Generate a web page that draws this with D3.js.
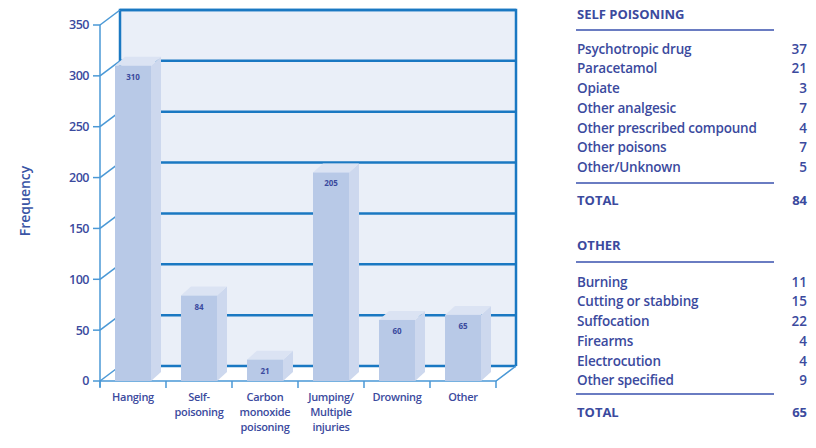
<!DOCTYPE html>
<html><head><meta charset="utf-8">
<script src="https://cdn.jsdelivr.net/npm/d3@7"></script>
<style>
body{margin:0;background:#fff;}
text{font-family:"Open Sans",sans-serif;}
</style></head>
<body><svg id="c" width="816" height="448"></svg>
<script>
const categories = [["Hanging"],["Self-","poisoning"],["Carbon","monoxide","poisoning"],["Jumping/","Multiple","injuries"],["Drowning"],["Other"]];
const values = [310,84,21,205,60,65];
const yTicks = [0,50,100,150,200,250,300,350];
const selfLabels = ["Psychotropic drug","Paracetamol","Opiate","Other analgesic","Other prescribed compound","Other poisons","Other/Unknown"];
const selfValues = [37,21,3,7,4,7,5];
const otherLabels = ["Burning","Cutting or stabbing","Suffocation","Firearms","Electrocution","Other specified"];
const otherValues = [11,15,22,4,4,9];

const svg = d3.select("#c");
const navy = "#3b4a9e";
const blue = "#1a78c2";
const lightBlue = "#4a98d6";
const DX = 20, DY = -15;   // wall depth
const bdx = 10, bdy = -9;  // bar depth

const y = d3.scaleLinear().domain([0,350]).range([381,25]);
const x = d3.scaleBand().domain(d3.range(categories.length)).range([100,496]).paddingInner(0.4545).paddingOuter(0.2273);
const x0 = 100, x1 = 496;

// back wall
svg.append("rect").attr("x",x0+DX).attr("y",y(350)+DY).attr("width",x1-x0).attr("height",y(0)-y(350))
  .attr("fill","#eaeff8");
svg.append("g").selectAll("line").data(yTicks).join("line")
  .attr("x1",x0+DX).attr("x2",x1+DX).attr("y1",d=>y(d)+DY).attr("y2",d=>y(d)+DY)
  .attr("stroke",blue).attr("stroke-width",2.5);
svg.append("path").attr("d",`M${x0+DX},${y(0)+DY}V${y(350)+DY}H${x1+DX}V${y(0)+DY}`)
  .attr("fill","none").attr("stroke",blue).attr("stroke-width",2.5);
svg.append("g").selectAll("line").data(yTicks).join("line")
  .attr("x1",x0).attr("y1",d=>y(d)).attr("x2",x0+DX).attr("y2",d=>y(d)+DY)
  .attr("stroke",lightBlue).attr("stroke-width",1.5);
svg.append("path").attr("d",`M${x0},${y(0)}H${x1}L${x1+DX},${y(0)+DY}`)
  .attr("fill","none").attr("stroke",lightBlue).attr("stroke-width",1.5);
svg.append("line").attr("x1",x0).attr("x2",x0).attr("y1",y(350)).attr("y2",y(0)+6)
  .attr("stroke",lightBlue).attr("stroke-width",1.5);
svg.append("g").selectAll("line").data(yTicks).join("line")
  .attr("x1",x0-7).attr("x2",x0).attr("y1",d=>y(d)).attr("y2",d=>y(d))
  .attr("stroke",lightBlue).attr("stroke-width",1.5);
svg.append("g").selectAll("text").data(yTicks).join("text")
  .attr("x",x0-11).attr("y",d=>y(d)).attr("dy","0.35em").attr("text-anchor","end")
  .attr("font-size",12.5).attr("font-weight",600).attr("fill",navy).attr("letter-spacing",-0.5).text(d=>d);
const step = x.step();
svg.append("g").selectAll("line").data(d3.range(categories.length+1)).join("line")
  .attr("x1",d=>x0+d*step).attr("x2",d=>x0+d*step).attr("y1",y(0)).attr("y2",y(0)+7)
  .attr("stroke",lightBlue).attr("stroke-width",1.5);

// bars
const bars = svg.append("g").selectAll("g").data(values).join("g");
bars.append("path").attr("fill","#cdd8ee")
  .attr("d",(d,i)=>{const r=x(i)+x.bandwidth();return `M${r},${y(0)}V${y(d)}l${bdx},${bdy}V${y(0)+bdy}Z`;});
bars.append("path").attr("fill","#dbe3f3")
  .attr("d",(d,i)=>`M${x(i)},${y(d)}l${bdx},${bdy}h${x.bandwidth()}l${-bdx},${-bdy}Z`);
bars.append("rect").attr("fill","#b8c9e7")
  .attr("x",(d,i)=>x(i)).attr("y",d=>y(d)).attr("width",x.bandwidth()).attr("height",d=>y(0)-y(d));
bars.append("text").attr("x",(d,i)=>x(i)+x.bandwidth()/2).attr("y",d=>y(d)+14)
  .attr("text-anchor","middle").attr("font-size",8).attr("font-weight",700).attr("fill",navy).text(d=>d);

svg.append("g").selectAll("text").data(categories).join("text")
  .attr("x",(d,i)=>x(i)+x.bandwidth()/2).attr("y",401)
  .attr("text-anchor","middle").attr("font-size",11).attr("font-weight",600).attr("fill",navy)
  .attr("letter-spacing",-0.3)
  .each(function(d){d3.select(this).selectAll("tspan").data(d).join("tspan")
    .attr("x",d3.select(this).attr("x")).attr("dy",(t,j)=>j?15:0).text(t=>t);});

svg.append("text").attr("transform","translate(30,201) rotate(-90)").attr("text-anchor","middle")
  .attr("font-size",14).attr("font-weight",600).attr("fill","#3a55a5").text("Frequency");

const tx = 577, tr = 807, lineEnd = 774, fs = 13.5;
function table(title, labels, vals, titleY, lineY, firstY, line2Y, totalY){
  const g = svg.append("g");
  g.append("text").attr("x",tx).attr("y",titleY).attr("dy","0.35em").attr("font-size",13).attr("font-weight",700).attr("fill",navy).text(title);
  g.append("line").attr("x1",tx-1).attr("x2",lineEnd).attr("y1",lineY).attr("y2",lineY).attr("stroke","#6a7cc2").attr("stroke-width",1.8);
  const rows = g.selectAll("g.r").data(labels).join("g");
  rows.append("text").attr("x",tx).attr("y",(d,i)=>firstY+i*19.7).attr("dy","0.35em").attr("font-size",fs).attr("font-weight",600).attr("fill",navy).attr("letter-spacing",-0.2).text(d=>d);
  rows.append("text").attr("x",tr).attr("y",(d,i)=>firstY+i*19.7).attr("dy","0.35em").attr("text-anchor","end").attr("font-size",fs).attr("font-weight",600).attr("fill",navy).text((d,i)=>vals[i]);
  g.append("line").attr("x1",tx-1).attr("x2",lineEnd).attr("y1",line2Y).attr("y2",line2Y).attr("stroke","#6a7cc2").attr("stroke-width",1.8);
  g.append("text").attr("x",tx).attr("y",totalY).attr("dy","0.35em").attr("font-size",13).attr("font-weight",700).attr("fill",navy).text("TOTAL");
  g.append("text").attr("x",tr).attr("y",totalY).attr("dy","0.35em").attr("text-anchor","end").attr("font-size",13).attr("font-weight",700).attr("fill",navy).text(d3.sum(vals));
}
table("SELF POISONING", selfLabels, selfValues, 14, 30, 49, 183, 200);
table("OTHER", otherLabels, otherValues, 245, 262, 282, 394, 412);
</script></body></html>
